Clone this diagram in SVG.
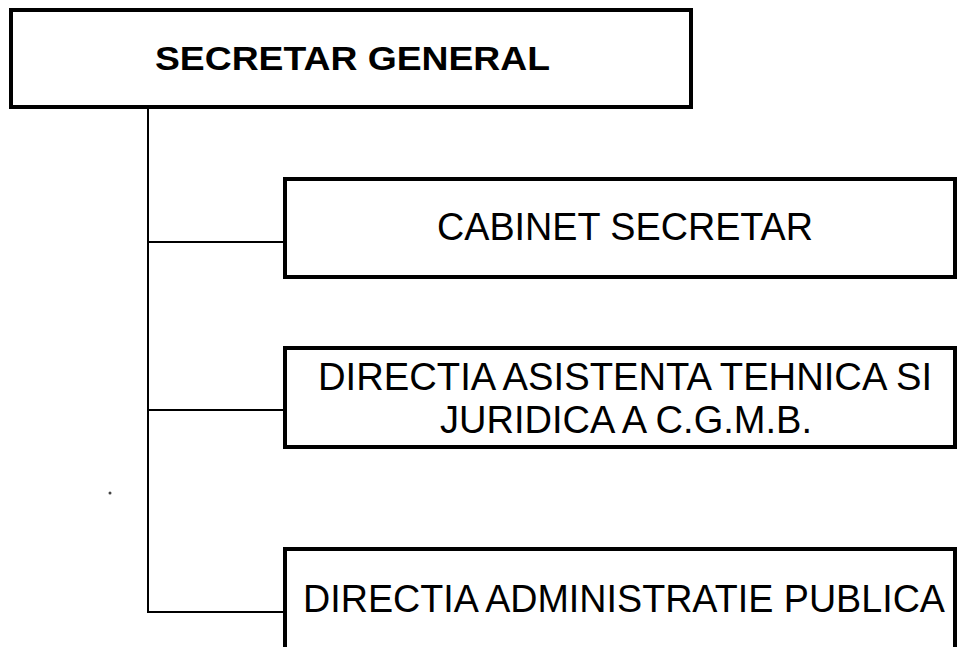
<svg xmlns="http://www.w3.org/2000/svg" width="958" height="647" viewBox="0 0 958 647">
<style>
.box{fill:#fff;stroke:#000;stroke-width:4}
.t{font-family:"Liberation Sans",Arial,sans-serif;fill:#000;text-anchor:start}
.b{font-weight:bold;font-size:34px}
.r{font-size:38px}
.c{stroke:#000;stroke-width:2;fill:none}
</style>
<rect width="958" height="647" fill="#fff"/>
<g id="connectors">
<line class="c" x1="148" y1="108" x2="148" y2="613"/>
<line class="c" x1="147" y1="242" x2="284" y2="242"/>
<line class="c" x1="147" y1="410" x2="284" y2="410"/>
<line class="c" x1="147" y1="612" x2="284" y2="612"/>
</g>
<g id="secretar-general">
<rect class="box" x="11" y="10" width="680" height="97"/>
<text class="t b" x="155" y="70" textLength="395" lengthAdjust="spacingAndGlyphs">SECRETAR GENERAL</text>
</g>
<g id="cabinet-secretar">
<rect class="box" x="285" y="179" width="670" height="98"/>
<text class="t r" x="437" y="240" textLength="376" lengthAdjust="spacingAndGlyphs">CABINET SECRETAR</text>
</g>
<g id="directia-asistenta">
<rect class="box" x="285" y="348" width="670" height="99"/>
<text class="t r" x="318" y="390" textLength="614" lengthAdjust="spacingAndGlyphs">DIRECTIA ASISTENTA TEHNICA SI</text>
<text class="t r" x="440" y="433" textLength="372" lengthAdjust="spacingAndGlyphs">JURIDICA A C.G.M.B.</text>
</g>
<g id="directia-administratie">
<rect class="box" x="285" y="549" width="670" height="110"/>
<text class="t r" x="303" y="612" textLength="642" lengthAdjust="spacingAndGlyphs">DIRECTIA ADMINISTRATIE PUBLICA</text>
</g>
<circle cx="110" cy="493" r="1.5" fill="#444"/>
</svg>
